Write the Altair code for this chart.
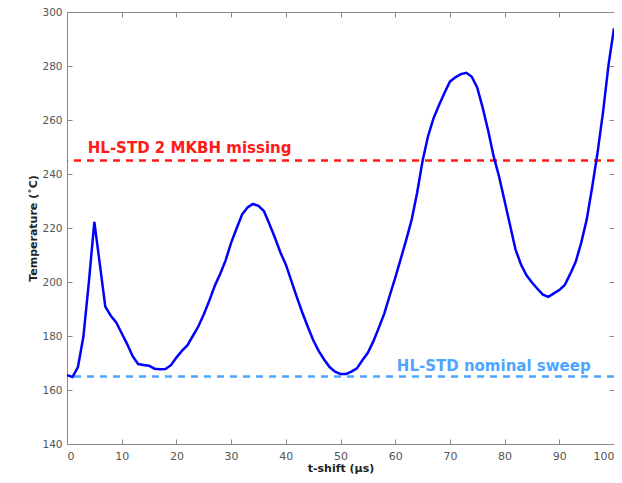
import altair as alt
import pandas as pd

# ---- data ----
t_shift = list(range(0, 101))
temperature = [
    165.5, 164.8, 168.5, 179.8, 200.0, 222.3, 206.6, 190.9, 187.5, 185.0,
    181.0, 177.0, 172.5, 169.6, 169.3, 169.0, 167.9, 167.7, 167.8, 169.2,
    172.0, 174.5, 176.5, 180.0, 183.5, 188.0, 193.0, 198.5, 203.0, 208.0,
    214.5, 219.8, 225.0, 227.6, 228.9, 228.2, 226.3, 221.5, 216.5, 211.0,
    206.5, 200.5, 194.5, 188.8, 183.5, 178.5, 174.5, 171.3, 168.5, 166.8,
    165.9, 165.9, 166.8, 168.0, 171.0, 173.8, 178.0, 183.0, 188.3, 195.0,
    201.5, 208.5, 215.5, 223.0, 233.0, 244.8, 254.0, 260.6, 265.5, 270.0,
    274.2, 275.8, 277.0, 277.5, 276.0, 272.0, 264.5, 256.0, 246.5, 239.0,
    230.0, 221.0, 212.0, 206.5, 202.5, 199.8, 197.5, 195.3, 194.5, 195.8,
    197.0, 198.9, 203.0, 207.5, 214.5, 223.0, 235.0, 248.0, 263.0, 280.4,
    294.0,
]
ref_values = [245, 165]
ref_colors = ["#ff1a1a", "#4ea5ff"]
ref_labels = ["HL-STD 2 MKBH missing", "HL-STD nominal sweep"]
label_x = [3.8, 60.3]
label_y = [247.9, 167.1]

x_ticks = list(range(0, 101, 10))
y_ticks = list(range(140, 301, 20))

curve = pd.DataFrame({"t": t_shift, "T": temperature})
refs = pd.DataFrame({"v": ref_values, "c": ref_colors})
labels = pd.DataFrame({"x": label_x, "y": label_y, "txt": ref_labels, "c": ref_colors})

AX = "#8a8a8a"
FONT = "DejaVu Sans"
xs = alt.Scale(domain=[0, 100], nice=False, zero=False)
ys = alt.Scale(domain=[140, 300], nice=False, zero=False)


def tick_axis(orient, values):
    return alt.Axis(orient=orient, values=values, labels=False, domain=False,
                    ticks=True, tickSize=5, offset=-5, tickColor=AX,
                    tickWidth=1, title=None, grid=False)


main = alt.Chart(curve).mark_line(color="#0000ff", strokeWidth=2.5).encode(
    x=alt.X("t:Q", scale=xs, axis=alt.Axis(
        orient="bottom", values=x_ticks, ticks=False, tickSize=0, domain=False,
        labelPadding=6, labelFont=FONT, labelFontSize=11, labelColor="#555555",
        title="t-shift (μs)", titleFont=FONT, titleFontSize=11,
        titleFontWeight="bold", titleColor="#222222", titlePadding=1,
        grid=False)),
    y=alt.Y("T:Q", scale=ys, axis=alt.Axis(
        orient="left", values=y_ticks, ticks=False, tickSize=0, domain=False,
        labelPadding=5, labelFont=FONT, labelFontSize=10.5, labelColor="#555555",
        title="Temperature (˚C)", titleFont=FONT, titleFontSize=11,
        titleFontWeight="bold", titleColor="#222222", titlePadding=3,
        grid=False)),
)

ticks_bl = alt.Chart(curve).mark_line(strokeOpacity=0).encode(
    x=alt.X("t:Q", scale=xs, axis=tick_axis("bottom", x_ticks)),
    y=alt.Y("T:Q", scale=ys, axis=tick_axis("left", y_ticks)),
)
ticks_tr = alt.Chart(curve).mark_line(strokeOpacity=0).encode(
    x=alt.X("t:Q", scale=xs, axis=tick_axis("top", x_ticks)),
    y=alt.Y("T:Q", scale=ys, axis=tick_axis("right", y_ticks)),
)

rules = alt.Chart(refs).mark_rule(strokeWidth=2.5, strokeDash=[7, 6]).encode(
    y=alt.Y("v:Q", scale=ys, axis=None),
    color=alt.Color("c:N", scale=None),
)

texts = alt.Chart(labels).mark_text(
    align="left", baseline="alphabetic", font=FONT, fontSize=15,
    fontWeight="bold").encode(
    x=alt.X("x:Q", scale=xs, axis=None),
    y=alt.Y("y:Q", scale=ys, axis=None),
    text="txt:N",
    color=alt.Color("c:N", scale=None),
)

chart = alt.layer(ticks_bl, ticks_tr, rules, main, texts).resolve_axis(
    x="independent", y="independent"
).properties(
    width=547, height=432,
    padding={"left": 59, "top": 4, "right": 0, "bottom": 30},
    autosize=alt.AutoSizeParams(type="none"),
).configure_view(stroke=AX, strokeWidth=1)

chart.save("out.html", embed_options={"renderer": "svg", "actions": False})
